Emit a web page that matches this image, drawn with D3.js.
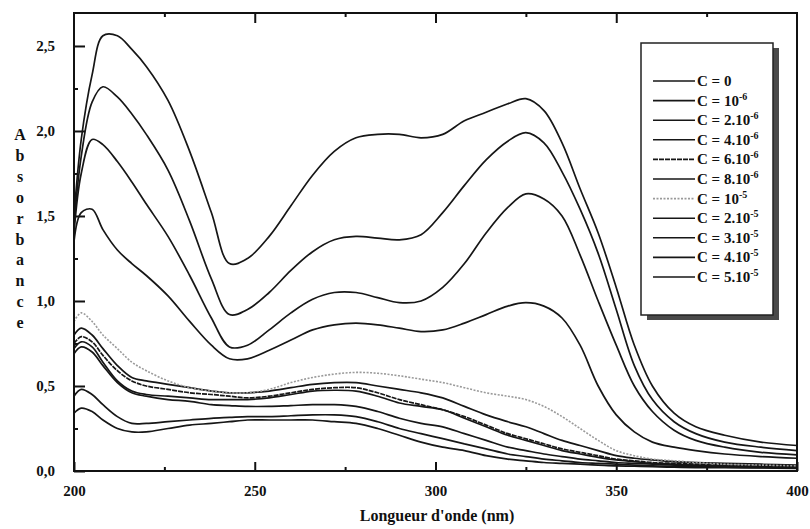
<!DOCTYPE html>
<html>
<head>
<meta charset="utf-8">
<script src="https://cdn.jsdelivr.net/npm/d3@7"></script>
<style>
  body { margin: 0; background: #fff; }
  text { font-family: "Liberation Serif", "DejaVu Serif", serif; font-weight: bold; fill: #111; }
</style>
</head>
<body>
<div id="chart-container"></div>
<script>
// wavelengths (nm) shared by every spectrum
const wavelengths = [200,202,205,208,212,216,220,226,232,238,243,248,254,260,266,272,278,284,290,296,302,308,314,320,325,330,335,340,345,350,355,360,366,372,380,390,400];

// absorbance, one array per concentration
const absC0 = [0.34,0.37,0.35,0.30,0.25,0.23,0.23,0.25,0.27,0.28,0.29,0.30,0.30,0.30,0.30,0.29,0.28,0.25,0.21,0.17,0.14,0.12,0.09,0.07,0.06,0.05,0.045,0.04,0.035,0.03,0.028,0.025,0.022,0.02,0.02,0.018,0.015];
const absC1e6 = [0.44,0.48,0.45,0.39,0.32,0.28,0.28,0.29,0.30,0.31,0.315,0.32,0.32,0.325,0.33,0.33,0.32,0.29,0.25,0.22,0.19,0.16,0.13,0.10,0.085,0.07,0.06,0.05,0.045,0.04,0.035,0.03,0.028,0.025,0.022,0.02,0.02];
const absC2e6 = [0.69,0.73,0.70,0.62,0.52,0.46,0.44,0.42,0.41,0.39,0.385,0.38,0.38,0.385,0.39,0.39,0.38,0.35,0.31,0.28,0.26,0.22,0.18,0.14,0.12,0.10,0.085,0.07,0.06,0.05,0.045,0.04,0.035,0.03,0.028,0.025,0.022];
const absC4e6 = [0.72,0.76,0.73,0.64,0.53,0.47,0.45,0.44,0.43,0.42,0.42,0.42,0.43,0.45,0.47,0.475,0.47,0.44,0.40,0.38,0.36,0.31,0.26,0.21,0.18,0.15,0.12,0.10,0.08,0.065,0.055,0.045,0.04,0.035,0.03,0.027,0.025];
const absC6e6 = [0.75,0.79,0.76,0.68,0.59,0.53,0.50,0.48,0.46,0.45,0.44,0.43,0.44,0.46,0.48,0.49,0.49,0.46,0.42,0.39,0.36,0.32,0.27,0.22,0.19,0.16,0.13,0.11,0.09,0.07,0.06,0.05,0.045,0.04,0.035,0.03,0.03];
const absC8e6 = [0.80,0.84,0.80,0.72,0.62,0.55,0.53,0.51,0.49,0.47,0.46,0.46,0.47,0.49,0.51,0.52,0.52,0.50,0.48,0.46,0.43,0.38,0.33,0.29,0.26,0.22,0.18,0.15,0.12,0.09,0.075,0.065,0.055,0.05,0.045,0.04,0.035];
const absC1e5 = [0.88,0.93,0.88,0.80,0.72,0.64,0.59,0.53,0.49,0.47,0.46,0.46,0.48,0.52,0.55,0.57,0.58,0.575,0.56,0.54,0.52,0.49,0.46,0.44,0.42,0.38,0.32,0.25,0.18,0.12,0.09,0.07,0.06,0.05,0.04,0.035,0.03];
const absC2e5 = [1.35,1.52,1.54,1.42,1.30,1.22,1.15,1.03,0.88,0.74,0.66,0.66,0.71,0.77,0.83,0.86,0.87,0.86,0.84,0.82,0.83,0.87,0.92,0.97,0.99,0.97,0.90,0.74,0.50,0.33,0.23,0.17,0.14,0.12,0.10,0.085,0.075];
const absC3e5 = [1.40,1.75,1.95,1.92,1.82,1.70,1.57,1.38,1.15,0.90,0.73,0.74,0.83,0.93,1.01,1.05,1.05,1.02,0.99,1.00,1.08,1.22,1.40,1.55,1.63,1.60,1.50,1.27,1.00,0.74,0.50,0.35,0.24,0.18,0.14,0.11,0.095];
const absC4e5 = [1.45,1.85,2.17,2.26,2.20,2.10,1.98,1.77,1.47,1.13,0.92,0.95,1.05,1.18,1.29,1.36,1.38,1.37,1.36,1.39,1.52,1.68,1.83,1.94,1.99,1.93,1.76,1.54,1.28,0.95,0.62,0.42,0.29,0.22,0.17,0.14,0.12];
const absC5e5 = [1.50,1.95,2.33,2.56,2.56,2.48,2.38,2.18,1.88,1.52,1.22,1.25,1.38,1.56,1.74,1.88,1.96,1.98,1.98,1.96,1.98,2.06,2.11,2.16,2.19,2.12,1.93,1.66,1.40,1.08,0.74,0.50,0.34,0.26,0.21,0.17,0.15];

// legend labels: base text and superscript
const legendBase = ["C = 0","C = 10","C = 2.10","C = 4.10","C = 6.10","C = 8.10","C = 10","C = 2.10","C = 3.10","C = 4.10","C = 5.10"];
const legendExp  = ["","-6","-6","-6","-6","-6","-5","-5","-5","-5","-5"];

const xTicks = [200, 250, 300, 350, 400];
const yTicks = [0, 0.5, 1.0, 1.5, 2.0, 2.5];

const allSeries = [absC0, absC1e6, absC2e6, absC4e6, absC6e6, absC8e6, absC1e5, absC2e5, absC3e5, absC4e5, absC5e5];

const W = 810, H = 529;
const margin = { top: 13, right: 13, bottom: 58, left: 74 };
const width = W - margin.left - margin.right;
const height = H - margin.top - margin.bottom;

const svg = d3.select("#chart-container")
  .append("svg")
  .attr("width", W)
  .attr("height", H);

const g = svg.append("g")
  .attr("transform", "translate(" + margin.left + "," + margin.top + ")");

const x = d3.scaleLinear().domain([200, 400]).range([0, width]);
const y = d3.scaleLinear().domain([0, 2.694]).range([height, 0]);

const fr = d3.formatLocale({ decimal: ",", thousands: " ", grouping: [3], currency: ["", ""] });
const fmt = fr.format(".1f");

// minor ticks
g.append("g")
  .attr("transform", "translate(0," + height + ")")
  .call(d3.axisBottom(x).tickValues(d3.range(225, 400, 50)).tickSize(-4).tickFormat(""));
g.append("g")
  .call(d3.axisTop(x).tickValues(d3.range(225, 400, 50)).tickSize(-4).tickFormat(""));
g.append("g")
  .call(d3.axisLeft(y).tickValues([0.25, 0.75, 1.25, 1.75, 2.25]).tickSize(-4).tickFormat(""));

// major ticks
g.append("g")
  .attr("class", "xaxis")
  .attr("transform", "translate(0," + height + ")")
  .call(d3.axisBottom(x).tickValues(xTicks).tickSize(-9).tickPadding(14));
g.append("g")
  .call(d3.axisTop(x).tickValues([250, 300, 350]).tickSize(-10).tickFormat(""));
g.append("g")
  .attr("class", "yaxis")
  .call(d3.axisLeft(y).tickValues(yTicks).tickSize(-11).tickFormat(fmt).tickPadding(19));

g.selectAll(".domain").remove();
g.selectAll(".tick line").attr("stroke", "#111").attr("stroke-width", 2);
g.selectAll(".tick text")
  .style("font-family", '"Liberation Serif", serif')
  .style("font-weight", "bold")
  .style("font-size", "15px")
  .attr("fill", "#111");

// spectra
const line = d3.line()
  .x((d, i) => x(wavelengths[i]))
  .y(d => y(d))
  .curve(d3.curveCatmullRom.alpha(0.5));

allSeries.forEach((s, i) => {
  const dotted = i === 6;
  g.append("path")
    .datum(s)
    .attr("fill", "none")
    .attr("stroke", dotted ? "#9a9a9a" : "#161616")
    .attr("stroke-width", dotted ? 1.6 : 1.7)
    .attr("stroke-dasharray", dotted ? "2,1.5" : (i === 4 ? "5,1" : null))
    .attr("d", line);
});

// frame
g.append("rect")
  .attr("width", width)
  .attr("height", height)
  .attr("fill", "none")
  .attr("stroke", "#111")
  .attr("stroke-width", 2);

// legend
const lg = svg.append("g").attr("transform", "translate(641,43)");
lg.append("rect").attr("x", 6).attr("y", 5).attr("width", 132).attr("height", 272).attr("fill", "#4a4a4a");
lg.append("rect").attr("width", 132).attr("height", 272).attr("fill", "#fff").attr("stroke", "#222").attr("stroke-width", 1.5);

legendBase.forEach((t, i) => {
  const ly = 38 + i * 19.6;
  const dotted = i === 6;
  lg.append("line")
    .attr("x1", 12).attr("x2", 54)
    .attr("y1", ly).attr("y2", ly)
    .attr("stroke", dotted ? "#9a9a9a" : "#161616")
    .attr("stroke-width", 1.6)
    .attr("stroke-dasharray", dotted ? "2,1.5" : (i === 4 ? "5,1" : null));
  const tx = lg.append("text")
    .attr("x", 56)
    .attr("y", ly + 5)
    .style("font-size", "15px");
  tx.append("tspan").text(t);
  if (legendExp[i]) {
    tx.append("tspan")
      .attr("dy", -6)
      .style("font-size", "10px")
      .text(legendExp[i]);
  }
});

// y title, one letter per line
"Absorbance".split("").forEach((c, i) => {
  svg.append("text")
    .attr("x", 20)
    .attr("y", 140 + i * 20.9)
    .attr("text-anchor", "middle")
    .style("font-size", "16px")
    .text(c);
});

// x title
svg.append("text")
  .attr("x", 437)
  .attr("y", 521)
  .attr("text-anchor", "middle")
  .style("font-size", "16px")
  .text("Longueur d'onde (nm)");
</script>
</body>
</html>
